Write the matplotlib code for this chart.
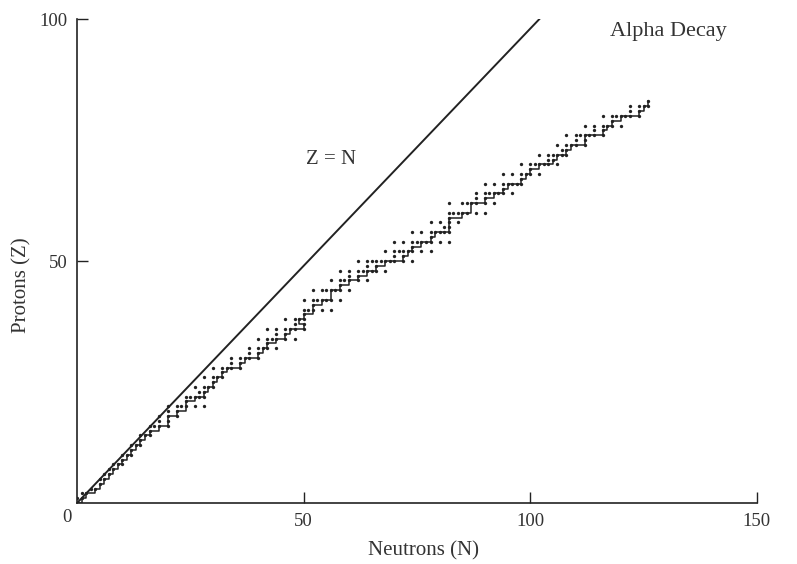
import matplotlib.pyplot as plt
import numpy as np

# stable nuclides: proton number and the stable neutron numbers for it
protons = [1, 2, 3, 4, 5, 6, 7, 8, 9, 10, 11, 12, 13, 14, 15, 16, 17, 18, 19, 20,
           21, 22, 23, 24, 25, 26, 27, 28, 29, 30, 31, 32, 33, 34, 35, 36, 37, 38, 39, 40,
           41, 42, 44, 45, 46, 47, 48, 49, 50, 51, 52, 53, 54, 55, 56, 57, 58, 59, 60,
           62, 63, 64, 65, 66, 67, 68, 69, 70, 71, 72, 73, 74, 75, 76, 77, 78, 79, 80,
           81, 82, 83]
neutrons = [
    [0, 1], [1, 2], [3, 4], [5], [5, 6], [6, 7], [7, 8], [8, 9, 10], [10], [10, 11, 12],
    [12], [12, 13, 14], [14], [14, 15, 16], [16], [16, 17, 18, 20], [18, 20], [18, 20, 22],
    [20, 22], [20, 22, 23, 24, 26, 28],
    [24], [24, 25, 26, 27, 28], [27, 28], [26, 28, 29, 30], [30], [28, 30, 31, 32], [32],
    [30, 32, 33, 34, 36], [34, 36], [34, 36, 37, 38, 40], [38, 40], [38, 40, 41, 42, 44],
    [42], [40, 42, 43, 44, 46, 48], [44, 46], [42, 44, 46, 47, 48, 50], [48, 50],
    [46, 48, 49, 50], [50], [50, 51, 52, 54, 56],
    [52], [50, 52, 53, 54, 55, 56, 58], [52, 54, 55, 56, 57, 58, 60], [58],
    [56, 58, 59, 60, 62, 64], [60, 62], [58, 60, 62, 63, 64, 65, 66, 68], [64, 66],
    [62, 64, 65, 66, 67, 68, 69, 70, 72, 74], [70, 72], [68, 70, 71, 72, 73, 74, 76, 78],
    [74], [70, 72, 74, 75, 76, 77, 78, 80, 82], [78], [74, 76, 78, 79, 80, 81, 82],
    [81, 82], [78, 80, 82, 84], [82], [82, 83, 84, 85, 86, 88, 90],
    [82, 85, 86, 87, 88, 90, 92], [88, 90], [88, 90, 91, 92, 93, 94, 96], [94],
    [90, 92, 94, 95, 96, 97, 98], [98], [94, 96, 98, 99, 100, 102], [100],
    [98, 100, 101, 102, 103, 104, 106], [104, 105], [102, 104, 105, 106, 107, 108],
    [107, 108], [106, 108, 109, 110, 112], [110, 112], [108, 110, 111, 112, 113, 114, 116],
    [114, 116], [112, 114, 116, 117, 118, 120], [118], [116, 118, 119, 120, 121, 122, 124],
    [122, 124], [122, 124, 125, 126], [126],
]

# the Z = N reference line, as drawn (it reaches the top at about N = 102)
zn_line_n = [0, 102]
zn_line_z = [0, 100]

n_pts = [n for ns in neutrons for n in ns]
z_pts = [z for z, ns in zip(protons, neutrons) for n in ns]
n_mid = [ns[len(ns) // 2] for ns in neutrons]

ink = '#222222'
txt = '#333333'
plt.rcParams['font.family'] = ['Liberation Serif', 'DejaVu Serif']

fig = plt.figure(figsize=(7.97, 5.64), dpi=100)
ax = fig.add_axes([0.0966, 0.108, 0.853, 0.858])

ax.plot(zn_line_n, zn_line_z, color=ink, lw=1.4)
ax.plot([0] + n_mid, [0] + protons, color=ink, lw=1.1, drawstyle='steps-post')
ax.plot(n_pts, z_pts, 'o', color=ink, ms=2.4, mew=0)

ax.set_xlim(0, 150)
ax.set_ylim(0, 100)
ax.spines['top'].set_visible(False)
ax.spines['right'].set_visible(False)
for s in ['left', 'bottom']:
    ax.spines[s].set_color(ink)
    ax.spines[s].set_linewidth(1.2)
ax.set_xticks([50, 100, 150])
ax.set_yticks([50, 100])
ax.tick_params(direction='in', length=8, width=1, colors=ink, labelsize=13.5, pad=7)
for lab in ax.get_xticklabels() + ax.get_yticklabels():
    lab.set_color(txt)
fig.text(67 / 797, 1 - 518 / 564, '0', ha='center', va='center', fontsize=13.5, color=txt)

ax.text(56, 71, 'Z = N', fontsize=15, color=txt, ha='center', va='center')
ax.text(130.5, 97.5, 'Alpha Decay', fontsize=16, color=txt, ha='center', va='center')

fig.text(0.028, 0.495, 'Protons (Z)', rotation=90, ha='center', va='center',
         fontsize=15, color=txt)
fig.text(0.531, 0.023, 'Neutrons (N)', ha='center', va='center',
         fontsize=15, color=txt)

plt.savefig('out.png')
